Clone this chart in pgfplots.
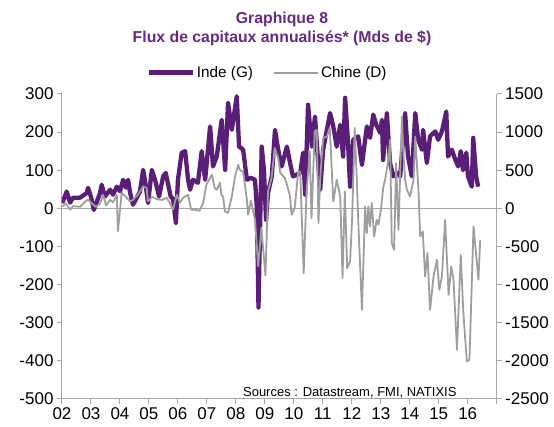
\documentclass[border=0pt]{standalone}
\usepackage{pgfplots}
\pgfplotsset{compat=1.18}
\usepackage{fontspec}
\setmainfont{Liberation Sans}
\definecolor{inde}{RGB}{90,30,120}
\definecolor{titre}{RGB}{104,40,134}
\definecolor{chine}{RGB}{158,158,158}
\definecolor{axe}{RGB}{166,166,166}

\pgfplotstableread{
x y
2002.01 14
2002.16 44
2002.28 15
2002.38 28
2002.62 28
2002.85 40
2002.90 54
2003.00 30
2003.10 -4
2003.31 40
2003.37 62
2003.48 31
2003.66 49
2003.76 36
2003.89 57
2004.00 45
2004.11 75
2004.21 54
2004.28 75
2004.35 41
2004.45 9.5
2004.58 28
2004.69 44
2004.80 101
2004.87 70
2004.97 14
2005.10 101
2005.21 75
2005.35 31
2005.49 84
2005.58 93
2005.75 31
2005.83 25
2005.93 -39
2006.00 75
2006.13 146
2006.25 150
2006.35 75
2006.42 49
2006.52 75
2006.69 67
2006.82 150
2006.94 75
2007.11 215
2007.21 110
2007.34 136
2007.51 232
2007.63 101
2007.73 277
2007.86 206
2008.03 294
2008.11 162
2008.25 154
2008.38 75
2008.52 80
2008.66 75
2008.72 5
2008.78 -260
2008.89 162
2008.97 100
2009.04 -30
2009.11 41
2009.24 84
2009.35 206
2009.46 154
2009.58 110
2009.76 162
2009.87 119
2009.97 84
2010.22 93
2010.32 146
2010.39 36
2010.49 272
2010.62 162
2010.73 241
2010.84 119
2010.91 49
2011.01 154
2011.25 250
2011.36 215
2011.48 162
2011.60 219
2011.70 136
2011.77 290
2011.87 172
2011.94 57
2012.05 180
2012.22 189
2012.35 114
2012.52 215
2012.63 185
2012.74 246
2012.84 220
2012.98 198
2013.04 232
2013.08 127
2013.21 250
2013.32 119
2013.43 84
2013.55 93
2013.67 84
2013.84 250
2013.94 136
2014.07 84
2014.19 250
2014.29 180
2014.42 154
2014.46 206
2014.59 119
2014.70 189
2014.88 202
2014.98 180
2015.11 202
2015.26 254
2015.32 136
2015.45 154
2015.57 128
2015.67 110
2015.76 150
2015.84 100
2015.95 146
2016.01 84
2016.14 57
2016.19 185
2016.29 84
2016.36 57
}\inde

\pgfplotstableread{
x y
2002.01 25
2002.14 60
2002.28 -18
2002.38 30
2002.62 20
2002.83 100
2002.90 113
2003.04 60
2003.17 20
2003.31 60
2003.42 178
2003.52 40
2003.66 110
2003.76 80
2003.89 178
2003.93 -300
2004.06 205
2004.21 150
2004.35 90
2004.45 113
2004.62 180
2004.80 288
2004.92 270
2004.97 91
2005.11 150
2005.28 120
2005.45 110
2005.61 139
2005.72 70
2005.83 -18
2005.96 178
2006.07 73
2006.18 139
2006.35 178
2006.46 -18
2006.59 -18
2006.75 -31
2006.87 70
2006.98 309
2007.04 353
2007.17 440
2007.27 266
2007.34 244
2007.45 336
2007.50 178
2007.56 156
2007.62 -40
2007.73 -58
2007.86 156
2007.97 418
2008.08 572
2008.14 500
2008.25 480
2008.38 113
2008.42 -84
2008.52 100
2008.66 -150
2008.77 -762
2008.88 -258
2009.02 -880
2009.11 222
2009.23 397
2009.34 791
2009.46 660
2009.53 467
2009.69 397
2009.77 300
2009.87 156
2009.92 -84
2010.03 4
2010.15 484
2010.22 480
2010.34 -850
2010.44 222
2010.55 746
2010.61 -128
2010.72 1009
2010.79 1031
2010.85 -193
2010.91 397
2011.01 922
2011.14 943
2011.24 1053
2011.36 91
2011.48 375
2011.60 156
2011.68 -914
2011.76 222
2011.84 -783
2011.94 -696
2012.01 -150
2012.10 1053
2012.18 309
2012.23 -237
2012.35 -1330
2012.46 25
2012.52 -324
2012.57 25
2012.63 -237
2012.69 70
2012.77 -368
2012.86 -150
2012.92 -215
2013.01 0
2013.09 288
2013.15 375
2013.26 637
2013.32 900
2013.38 -455
2013.46 -543
2013.53 594
2013.61 -281
2013.73 1205
2013.77 800
2013.84 375
2013.90 244
2014.01 156
2014.13 375
2014.19 943
2014.30 244
2014.36 -368
2014.45 -303
2014.53 -893
2014.61 -586
2014.70 -1330
2014.82 -893
2014.94 -674
2015.02 -1068
2015.11 -893
2015.22 -150
2015.34 -1133
2015.43 -762
2015.51 -936
2015.63 -1855
2015.76 -608
2015.85 -1373
2015.97 -2008
2016.06 -1986
2016.20 -237
2016.37 -936
2016.43 -420
}\chine

\begin{document}
\begin{tikzpicture}[x=1pt,y=1pt]
\useasboundingbox (-62,-28) rectangle (492,399);
\begin{axis}[
  scale only axis, width=434.7pt, height=305pt,
  at={(0,0)}, anchor=south west,
  xmin=2002, xmax=2017, ymin=-500, ymax=300,
  axis x line*=bottom, axis y line*=left,
  axis line style={axe, line width=1pt, -},
  xtick={2002,2003,2004,2005,2006,2007,2008,2009,2010,2011,2012,2013,2014,2015,2016,2017},
  xticklabels={02,03,04,05,06,07,08,09,10,11,12,13,14,15,16,{}},
  xticklabel style={yshift=-2.5pt, inner sep=1pt},
  ytick={-500,-400,-300,-200,-100,0,100,200,300},
  tick align=outside, major tick length=5pt,
  tick style={axe, line width=1pt},
  ticklabel style={font=\fontsize{17}{20}\selectfont},
  /pgf/number format/assume math mode=true,
  extra y ticks={0}, extra y tick labels={},
  extra y tick style={grid=major, major grid style={axe, line width=1pt}, major tick length=0pt},
  legend style={at={(0.473,1.07)}, anchor=center, draw=none, fill=none,
    legend columns=2, font=\fontsize{15.3}{18}\selectfont,
    /tikz/every even column/.append style={column sep=18pt}},
  legend image code/.code={\draw[#1] (0pt,0pt) -- (44pt,0pt);},
]
\addplot[inde, line width=4.3pt, line join=round] table[x=x,y=y] {\inde};
\addlegendentry{Inde (G)}
\addlegendimage{chine, line width=2pt}
\addlegendentry{Chine (D)}
\end{axis}
\begin{axis}[
  scale only axis, width=434.7pt, height=305pt,
  at={(0,0)}, anchor=south west,
  xmin=2002, xmax=2017, ymin=-2500, ymax=1500,
  axis x line=none, axis y line*=right,
  axis line style={axe, line width=1pt, -},
  ytick={-2500,-2000,-1500,-1000,-500,0,500,1000,1500},
  tick align=outside, major tick length=5pt,
  tick style={axe, line width=1pt},
  ticklabel style={font=\fontsize{17}{20}\selectfont},
  /pgf/number format/assume math mode=true,
  /pgf/number format/set thousands separator={},
]
\addplot[chine, line width=1.8pt, line join=round] table[x=x,y=y] {\chine};
\end{axis}
\node[anchor=base, font=\fontsize{15.8}{19}\selectfont\bfseries, text=titre] at (220,375) {Graphique 8};
\node[anchor=base, font=\fontsize{15.8}{19}\selectfont\bfseries, text=titre] at (220,356.3) {Flux de capitaux annualisés* (Mds de \$)};
\node[anchor=base east, font=\fontsize{13}{15}\selectfont] at (398,2.5) {Sources : Datastream, FMI, NATIXIS};
\end{tikzpicture}
\end{document}
